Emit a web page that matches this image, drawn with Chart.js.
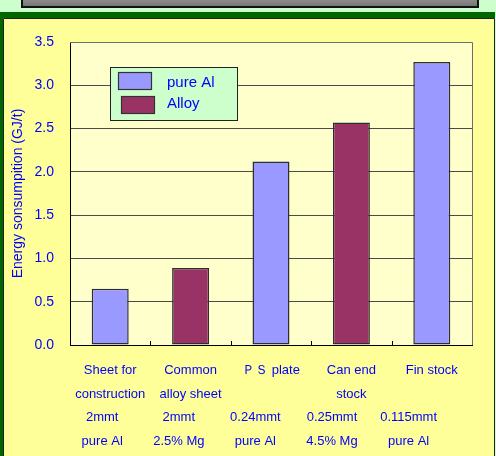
<!DOCTYPE html>
<html><head><meta charset="utf-8">
<script src="https://cdn.jsdelivr.net/npm/chart.js@4"></script>
<style>html,body{margin:0;padding:0;background:#CCFFCC;overflow:hidden}#wrap{position:relative;width:496px;height:456px}</style>
</head><body><div id="wrap"><canvas id="c" width="496" height="456"></canvas></div>
<script>
// ---- data ----
const categories = [["Sheet for","construction"],["Common","alloy sheet"],["ＰＳ plate"],["Can end","stock"],["Fin stock"]];
const thickness = ["2mmt","2mmt","0.24mmt","0.25mmt","0.115mmt"];
const material = ["pure Al","2.5% Mg","pure Al","4.5% Mg","pure Al"];
const seriesNames = ["pure Al","Alloy"];
const pureAl = [0.65, null, 2.12, null, 3.27];
const alloy = [null, 0.89, null, 2.57, null];
const yTitle = "Energy sonsumpition (GJ/t)";
const yMin = 0, yMax = 3.5, yStep = 0.5;

const BLUE = '#0000FF';
const SANS = "'Liberation Sans',Arial,sans-serif";

const bgPlugin = {
  id: 'bg',
  beforeDraw(chart) {
    const ctx = chart.ctx, W = chart.width, H = chart.height;
    ctx.save();
    ctx.fillStyle = '#CCFFCC'; ctx.fillRect(0, 0, W, H);
    const g = ctx.createLinearGradient(0, 0, 0, 7);
    g.addColorStop(0, '#8a8a8a'); g.addColorStop(1, '#747474');
    ctx.fillStyle = g; ctx.fillRect(22, -3, 456, 10);
    ctx.strokeStyle = '#111'; ctx.lineWidth = 2; ctx.strokeRect(22, -3, 456, 10);
    ctx.fillStyle = '#006600';
    ctx.fillRect(0, 12, W - 1, 6);
    ctx.fillRect(0, 12, 3, H - 12);
    ctx.fillStyle = '#FFFF99'; ctx.fillRect(3, 18, 491, H - 18);
    ctx.strokeStyle = '#222'; ctx.lineWidth = 1;
    ctx.beginPath(); ctx.moveTo(3.5, H); ctx.lineTo(3.5, 18.5); ctx.lineTo(494.5, 18.5); ctx.lineTo(494.5, H); ctx.stroke();
    const a = chart.chartArea;
    ctx.fillStyle = '#FFFFCC'; ctx.fillRect(a.left, a.top, a.right - a.left, a.bottom - a.top);
    ctx.restore();
  },
  afterDatasetsDraw(chart) {
    const ctx = chart.ctx, a = chart.chartArea;
    ctx.save();
    ctx.strokeStyle = '#6e6e6e'; ctx.lineWidth = 1;
    ctx.beginPath(); ctx.moveTo(a.left, a.top + 0.5); ctx.lineTo(a.right + 0.5, a.top + 0.5); ctx.lineTo(a.right + 0.5, a.bottom); ctx.stroke();
    // inside tick marks at category boundaries
    const xs = chart.scales.x;
    ctx.strokeStyle = '#000';
    for (let i = 1; i < categories.length; i++) {
      const bx = Math.round((xs.getPixelForTick(i - 1) + xs.getPixelForTick(i)) / 2) + 0.5;
      ctx.beginPath(); ctx.moveTo(bx, a.bottom); ctx.lineTo(bx, a.bottom - 4); ctx.stroke();
    }
    // spec lines under each category
    ctx.fillStyle = BLUE; ctx.font = '13px ' + SANS; ctx.textAlign = 'center'; ctx.textBaseline = 'alphabetic';
    for (let i = 0; i < categories.length; i++) {
      const cx = xs.getPixelForTick(i) - 8 - 3.8 * i;
      ctx.fillText(thickness[i], cx, 421);
      ctx.fillText(material[i], cx, 444.5);
    }
    // legend
    const lx = 110, ly = 67, lw = 127, lh = 53;
    ctx.fillStyle = '#CCFFCC'; ctx.fillRect(lx, ly, lw, lh);
    ctx.strokeStyle = '#222'; ctx.lineWidth = 1; ctx.strokeRect(lx + 0.5, ly + 0.5, lw, lh);
    chart.data.datasets.forEach((ds, i) => {
      const sy = 72 + i * 24;
      const sx = 118 + i * 3;
      ctx.fillStyle = ds.backgroundColor; ctx.fillRect(sx, sy, 33, 17);
      ctx.strokeStyle = '#333'; ctx.lineWidth = 1.2; ctx.strokeRect(sx + 0.5, sy + 0.5, 33, 17);
      ctx.fillStyle = BLUE; ctx.font = '15px ' + SANS; ctx.textAlign = 'left';
      ctx.fillText(ds.label, 167, 87 + i * 21);
    });
    ctx.restore();
  }
};

new Chart(document.getElementById('c'), {
  type: 'bar',
  data: {
    labels: categories,
    datasets: [
      { label: seriesNames[0], data: pureAl, backgroundColor: '#9999FF', borderColor: '#2e2e2e', borderWidth: 1.5, borderSkipped: false },
      { label: seriesNames[1], data: alloy, backgroundColor: '#993366', borderColor: '#2e2e2e', borderWidth: 1.5, borderSkipped: false }
    ]
  },
  options: {
    responsive: false,
    animation: false,
    devicePixelRatio: 1,
    layout: { padding: { top: 42, right: 24, bottom: 0, left: 0 } },
    datasets: { bar: { grouped: false, categoryPercentage: 1, barPercentage: 0.46 } },
    plugins: { legend: { display: false }, tooltip: { enabled: false } },
    scales: {
      x: {
        grid: { display: false },
        border: { color: '#000', width: 1 },
        ticks: { color: BLUE, font: { family: SANS, size: 13, lineHeight: '23.3px' }, padding: 6, maxRotation: 0, autoSkip: false },
        afterFit(s) { s.height = 111; }
      },
      y: {
        min: yMin, max: yMax,
        grid: { color: '#4a4a4a', lineWidth: 1, drawTicks: false },
        border: { color: '#000', width: 1 },
        ticks: { stepSize: yStep, color: BLUE, font: { family: SANS, size: 14 }, padding: 16, callback: v => v.toFixed(1) },
        title: { display: true, text: yTitle, color: BLUE, font: { family: SANS, size: 14 }, padding: { top: 10, bottom: 0 } },
        afterFit(s) { s.width = 70; }
      }
    }
  },
  plugins: [bgPlugin]
});
</script></body></html>
